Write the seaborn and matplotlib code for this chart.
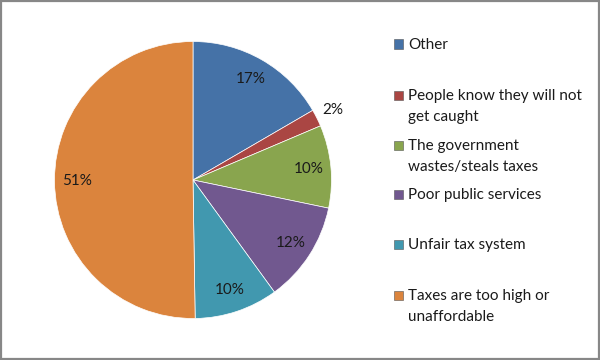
import matplotlib
matplotlib.use("Agg")
import matplotlib.pyplot as plt
import matplotlib.patches as mpatches
import seaborn as sns
import numpy as np

# Reasons given (pie slices, clockwise from 12 o'clock)
categories = [
    "Other",
    "People know they will not\nget caught",
    "The government\nwastes/steals taxes",
    "Poor public services",
    "Unfair tax system",
    "Taxes are too high or\nunaffordable",
]
shares = [16.7, 2.0, 9.7, 11.8, 9.8, 50.5]
pct_labels = ["17%", "2%", "10%", "12%", "10%", "51%"]
colors = ["#4572A7", "#AA4643", "#89A54E", "#71588F", "#4198AF", "#DB843D"]

sns.set_theme(style="white")
plt.rcParams["font.family"] = ["Lato", "DejaVu Sans"]
palette = sns.color_palette(colors)

fig = plt.figure(figsize=(6, 3.6), dpi=100)
fig.patch.set_facecolor("white")

# pie area: centre (193, 180) px, radius ~138 px
cx, cy, r = 193, 180, 138.5
ax = fig.add_axes([(cx - r) / 600, (360 - cy - r) / 360, 2 * r / 600, 2 * r / 360])
wedges, _ = ax.pie(
    shares, colors=palette, startangle=90, counterclock=False, radius=1,
    wedgeprops=dict(edgecolor="white", linewidth=0.5),
)
ax.set_xlim(-1, 1)
ax.set_ylim(-1, 1)
ax.axis("off")

# percentage labels
for w, lab in zip(wedges, pct_labels):
    mid = np.deg2rad((w.theta1 + w.theta2) / 2)
    dist = 1.13 if lab == "2%" else 0.84
    ax.text(dist * np.cos(mid), dist * np.sin(mid), lab,
            ha="center", va="center", fontsize=11, color="#1a1a1a")

# legend drawn as in the original (Excel style spacing)
leg_y = [44, 95, 145, 194, 244, 295]
for lab, col, y in zip(categories, palette, leg_y):
    fig.patches.append(mpatches.Rectangle(
        (394 / 600, 1 - (y + 4.5) / 360), 9 / 600, 9 / 360,
        transform=fig.transFigure, facecolor=col, edgecolor="#555555", linewidth=0.4))
    fig.text(408 / 600, 1 - (y - 6) / 360, lab, ha="left", va="top",
             fontsize=11, color="#1a1a1a", linespacing=1.6)

# chart border
fig.patches.append(mpatches.Rectangle(
    (0.001, 0.002), 0.997, 0.995, transform=fig.transFigure,
    fill=False, edgecolor="#878787", linewidth=1.6))

fig.savefig("out.png", dpi=100)
